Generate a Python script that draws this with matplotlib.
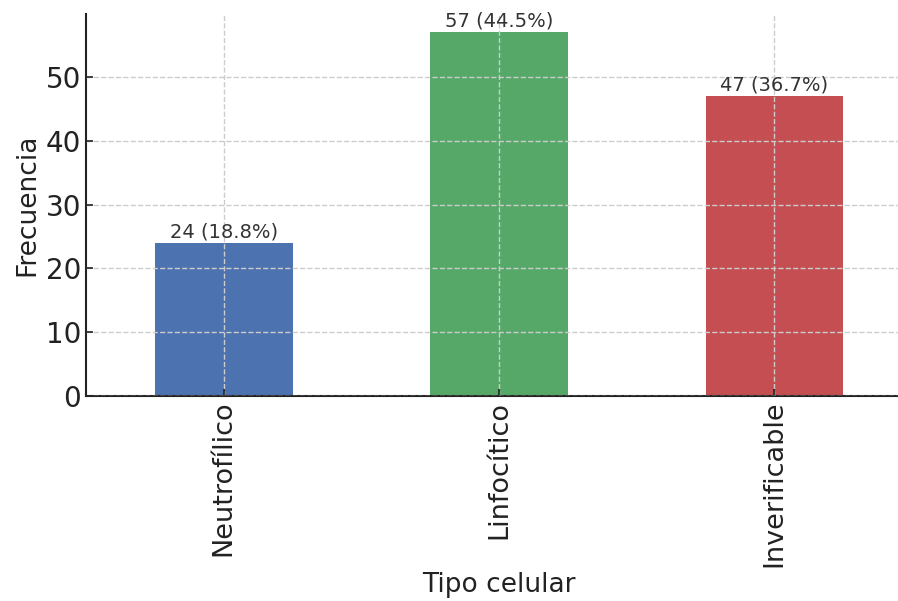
import matplotlib.pyplot as plt

# Datos: frecuencia por tipo celular
tipos = ['Neutrofílico', 'Linfocítico', 'Inverificable']
frecuencias = [24, 57, 47]
colores = ['#4C72B0', '#55A868', '#C44E52']

total = sum(frecuencias)

fig = plt.figure(figsize=(8.98, 6.01), dpi=100)
ax = fig.add_axes([86/898, 1 - 396/601, 826/898, 382/601])

x = range(len(tipos))
bars = ax.bar(x, frecuencias, width=0.5, color=colores, zorder=2)

# Etiquetas de valor y porcentaje encima de cada barra
for b, v in zip(bars, frecuencias):
    ax.annotate(f'{v} ({v / total * 100:.1f}%)',
                (b.get_x() + b.get_width() / 2, b.get_height()),
                xytext=(0, 1), textcoords='offset points',
                ha='center', va='bottom', fontsize=14, color='#333333')

ax.set_xticks(list(x))
ax.set_xticklabels(tipos, rotation=90, fontsize=19.5, color='#222222')
ax.set_xlim(-0.5, 2.5)
ax.set_ylim(0, max(frecuencias) * 1.05)
ax.set_yticks(range(0, 60, 10))
ax.tick_params(axis='y', labelsize=20, labelcolor='#222222')
ax.tick_params(direction='in', length=5, width=1.2, colors='#222222')

ax.set_xlabel('Tipo celular', fontsize=19, color='#222222', labelpad=3)
ax.set_ylabel('Frecuencia', fontsize=19, color='#222222')

ax.grid(True, linestyle='--', color='#cccccc', linewidth=1, zorder=0)
ax.set_axisbelow(False)
for s in ['top', 'right']:
    ax.spines[s].set_visible(False)
for s in ['left', 'bottom']:
    ax.spines[s].set_linewidth(1.5)
    ax.spines[s].set_color('#222222')

plt.savefig('out.png', dpi=100)
